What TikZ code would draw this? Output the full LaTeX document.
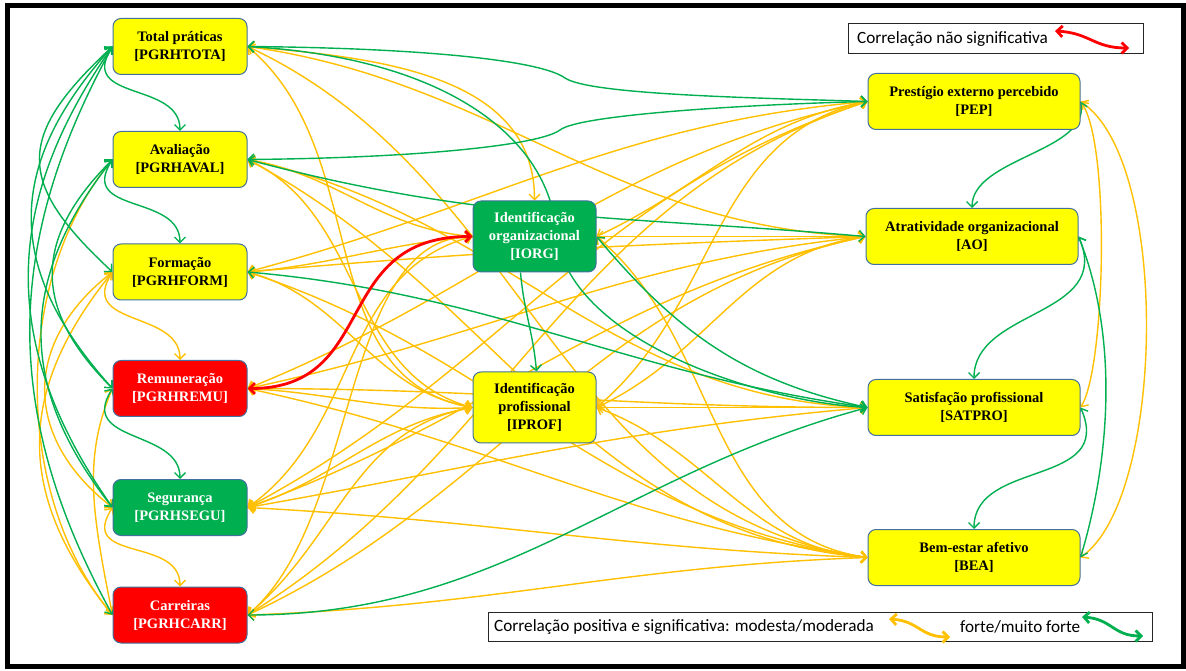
\documentclass[tikz,border=0pt]{standalone}
\usepackage{fontspec}
\setmainfont{Liberation Serif}
\newfontfamily\legfont{Carlito}
\usetikzlibrary{arrows.meta,backgrounds}
\definecolor{yel}{HTML}{FFFF00}
\definecolor{grn}{HTML}{00B050}
\definecolor{rd}{HTML}{FF0000}
\definecolor{org}{HTML}{FFC000}
\definecolor{outl}{HTML}{41719C}
\tikzset{
  box/.style={draw=outl, line width=1pt, rounded corners=8pt, align=center, inner sep=0pt,
              font=\fontsize{14.5}{18}\selectfont\bfseries},
  lbox/.style={box, minimum width=134pt, minimum height=56pt},
  mbox/.style={box, minimum width=123pt, minimum height=71pt},
  rbox/.style={box, minimum width=212pt, minimum height=56pt},
  link/.style={>={Straight Barb[length=5.5pt,width=11pt]}, <->, line width=1.4pt},
  og/.style={link, draw=org},
  gr/.style={link, draw=grn},
  rl/.style={link, draw=rd, line width=2.8pt},
  legfr/.style={draw=black!85, line width=1pt, inner sep=0pt, anchor=south west},
  legtx/.style={anchor=west, inner sep=0pt, font=\legfont\fontsize{17.2}{20}\selectfont},
}
\begin{document}
\begin{tikzpicture}[x=1pt,y=1pt]
\useasboundingbox (0,0) rectangle (1186,670);

% ---- variables ----
\node[lbox, fill=yel] (T) at (180,623.5) {Total práticas\\{}[PGRHTOTA]};
\node[lbox, fill=yel] (AV) at (180,510.5) {Avaliação\\{}[PGRHAVAL]};
\node[lbox, fill=yel] (FO) at (180,398) {Formação\\{}[PGRHFORM]};
\node[lbox, fill=rd, text=white] (RE) at (180,281.5) {Remuneração\\{}[PGRHREMU]};
\node[lbox, fill=grn, text=white] (SE) at (180,162.5) {Segurança\\{}[PGRHSEGU]};
\node[lbox, fill=rd, text=white] (CA) at (180,55) {Carreiras\\{}[PGRHCARR]};
\node[mbox, fill=grn, text=white] (IO) at (534.5,433.5) {Identificação\\organizacional\\{}[IORG]};
\node[mbox, fill=yel] (IP) at (534.5,262.5) {Identificação\\profissional\\{}[IPROF]};
\node[rbox, fill=yel] (PEP) at (974,568.5) {Prestígio externo percebido\\{}[PEP]};
\node[rbox, fill=yel] (AO) at (972,433.5) {Atratividade organizacional\\{}[AO]};
\node[rbox, fill=yel] (SAT) at (974,262.5) {Satisfação profissional\\{}[SATPRO]};
\node[rbox, fill=yel] (BEA) at (974,112.5) {Bem-estar afetivo\\{}[BEA]};

% ---- legends ----
\node[legfr, minimum width=295pt, minimum height=30pt] (L1) at (848,616) {};
\node[legtx] (L1t) at (857,631) {Correlação não significativa};
\coordinate (r1) at (1055,639);
\coordinate (r2) at (1129,622);
\draw[rl] (r1) .. controls +(35,-2) and +(-35,0) .. (r2);

\node[legfr, minimum width=664pt, minimum height=29pt] (L2) at (488,28) {};
\node[legtx] (L2a) at (494,43) {Correlação positiva e significativa: modesta/moderada};
\coordinate (o1) at (889,51);
\coordinate (o2) at (950,33);
\draw[og, line width=2.8pt] (o1) .. controls +(30,-2) and +(-30,0) .. (o2);
\node[legtx] (L2b) at (960,43) {forte/muito forte};
\coordinate (g1) at (1082,53);
\coordinate (g2) at (1143,34);
\draw[gr, line width=2.8pt] (g1) .. controls +(30,-2) and +(-30,0) .. (g2);

\begin{pgfonlayer}{background}
\fill[white] (0,0) rectangle (1186,670);

% ---- moderate correlations ----
% within the HR practices column
\draw[og] (FO.west) .. controls +(-35,-55) and +(0,50) .. (RE.north);
\draw[og] (SE.west) .. controls +(-35,-55) and +(0,50) .. (CA.north);
\draw[og] (AV.west) .. controls +(-100,-120) and +(-100,120) .. (CA.west);
\draw[og] (FO.west) .. controls +(-90,-70) and +(-90,70) .. (SE.west);
\draw[og] (FO.west) .. controls +(-97,-120) and +(-97,120) .. (CA.west);
\draw[og] (RE.west) .. controls +(-30,-70) and +(-20,100) .. (CA.west);
% practices to identifications and outcomes
\draw[og] (T.east) to[out=-5,in=90] (IO.north);
\draw[og] (T.east) to[out=-40,in=170] (IP.west);
\draw[og] (T.east) to[out=-8,in=178] (AO.west);
\draw[og] (T.east) to[out=-25,in=172] (BEA.west);
\draw[og] (AV.east) to[out=-10,in=175] (IO.west);
\draw[og] (AV.east) to[out=-25,in=165] (IP.west);
\draw[og] (AV.east) to[out=-12,in=178] (SAT.west);
\draw[og] (AV.east) to[out=-28,in=175] (BEA.west);
\draw[og] (FO.east) to[out=5,in=185] (IO.west);
\draw[og] (FO.east) to[out=-15,in=170] (IP.west);
\draw[og] (FO.east) to[out=15,in=185] (PEP.west);
\draw[og] (FO.east) to[out=5,in=182] (AO.west);
\draw[og] (FO.east) to[out=-18,in=172] (BEA.west);
\draw[og] (RE.east) to[out=-3,in=183] (IP.west);
\draw[og] (RE.east) to[out=22,in=192] (PEP.west);
\draw[og] (RE.east) to[out=12,in=186] (AO.west);
\draw[og] (RE.east) to[out=0,in=180] (SAT.west);
\draw[og] (RE.east) to[out=-12,in=172] (BEA.west);
\draw[og] (SE.east) to[out=35,in=195] (IO.west);
\draw[og] (SE.east) to[out=18,in=190] (IP.west);
\draw[og] (SE.east) to[out=28,in=198] (PEP.west);
\draw[og] (SE.east) to[out=20,in=192] (AO.west);
\draw[og] (SE.east) to[out=10,in=185] (SAT.west);
\draw[og] (SE.east) to[out=-3,in=178] (BEA.west);
\draw[og] (CA.east) .. controls (360,150) and (340,433.5) .. (IO.west);
\draw[og] (CA.east) to[out=40,in=190] (IP.west);
\draw[og] (CA.east) to[out=32,in=198] (PEP.west);
\draw[og] (CA.east) to[out=25,in=192] (AO.west);
\draw[og] (CA.east) to[out=2,in=182] (BEA.west);
% identifications to outcomes
\draw[og] (IO.east) to[out=25,in=190] (PEP.west);
\draw[og] (IO.east) to[out=0,in=180] (AO.west);
\draw[og] (IO.east) to[out=-40,in=172] (BEA.west);
\draw[og] (IP.east) to[out=40,in=192] (PEP.west);
\draw[og] (IP.east) to[out=25,in=188] (AO.west);
\draw[og] (IP.east) to[out=0,in=180] (SAT.west);
\draw[og] (IP.east) to[out=-20,in=175] (BEA.west);
% within the outcomes column
\draw[og] (PEP.east) .. controls +(30,-40) and +(25,40) .. (SAT.east);
\draw[og] (PEP.east) .. controls +(90,-60) and +(85,60) .. (BEA.east);

% ---- strong correlations ----
\draw[gr] (T.west) .. controls +(-35,-55) and +(0,50) .. (AV.north);
\draw[gr] (AV.west) .. controls +(-35,-55) and +(0,50) .. (FO.north);
\draw[gr] (RE.west) .. controls +(-35,-55) and +(0,50) .. (SE.north);
\draw[gr] (T.west) .. controls +(-97,-90) and +(-97,90) .. (FO.west);
\draw[gr] (T.west) .. controls +(-108,-120) and +(-108,120) .. (RE.west);
\draw[gr] (T.west) .. controls +(-112,-160) and +(-112,160) .. (SE.west);
\draw[gr] (T.west) .. controls +(-110,-200) and +(-110,200) .. (CA.west);
\draw[gr] (AV.west) .. controls +(-80,-80) and +(-80,80) .. (RE.west);
\draw[gr] (AV.west) .. controls +(-95,-120) and +(-95,120) .. (SE.west);
\draw[gr] (T.east) .. controls (420,622) and (540,610) .. (565,592)
                   .. controls (590,575) and (760,572) .. (PEP.west);
\draw[gr] (T.east) .. controls (450,612) and (548,530) .. (556,440)
                   .. controls (565,330) and (760,268) .. (SAT.west);
\draw[gr] (AV.east) .. controls (420,512) and (540,525) .. (560,540)
                    .. controls (580,556) and (760,566) .. (PEP.west);
\draw[gr] (AV.east) to[out=-15,in=175] (AO.west);
\draw[gr] (FO.east) to[out=-5,in=172] (SAT.west);
\draw[gr] (CA.east) to[out=0,in=195] (SAT.west);
\draw[gr] (IO.east) to[out=-50,in=168] (SAT.west);
\draw[gr, <-] ([xshift=2pt]IP.north) to[out=95,in=-85] ([xshift=-14pt]IO.south);
\draw[gr] (PEP.east) .. controls +(10,-50) and +(0,50) .. (AO.north);
\draw[gr] (AO.east) .. controls +(35,-80) and +(0,70) .. (SAT.north);
\draw[gr] (SAT.east) .. controls +(35,-80) and +(0,70) .. (BEA.north);
\draw[gr] (AO.east) .. controls +(40,-100) and +(30,100) .. (BEA.east);

% ---- non-significant correlation ----
\draw[rl] (RE.east) .. controls (380,281.5) and (330,433.5) .. (IO.west);
\end{pgfonlayer}

% outer frame
\draw[line width=5pt] (7.5,3.5) rectangle (1183,664.5);
\end{tikzpicture}
\end{document}
